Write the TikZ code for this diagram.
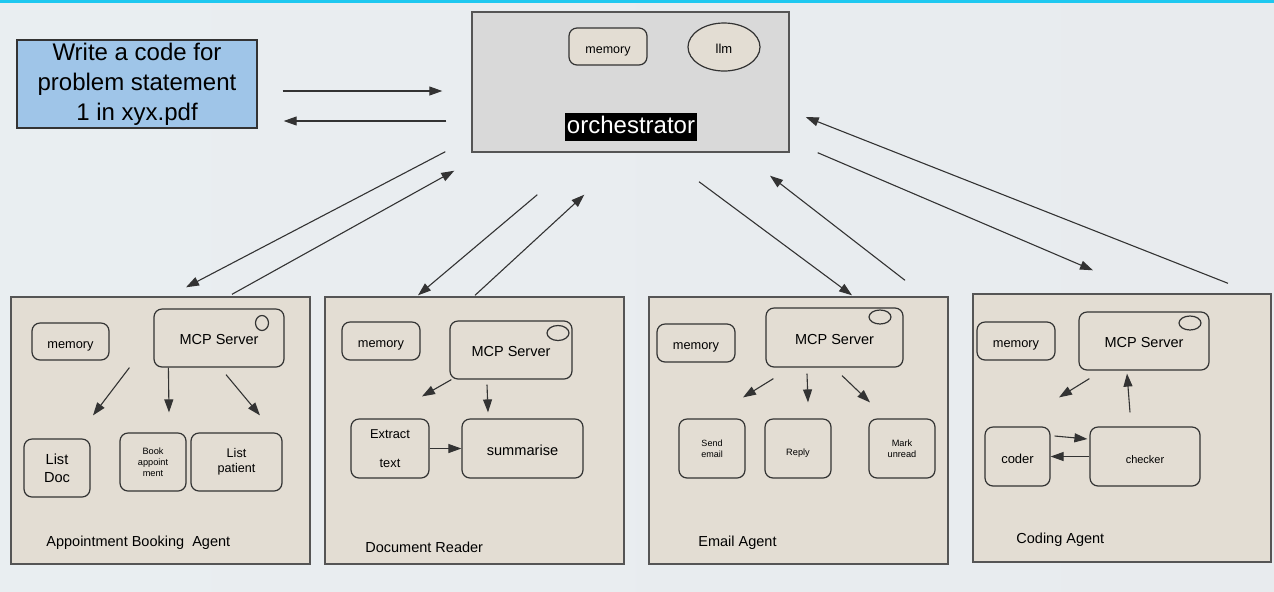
\documentclass[tikz,border=0pt]{standalone}
\usepackage{fontspec}
\setmainfont{Liberation Sans}
\usetikzlibrary{arrows.meta,shapes.geometric,calc}
\definecolor{agentBeige}{RGB}{227,221,211}
\definecolor{orchGray}{RGB}{217,217,217}
\definecolor{promptBlue}{RGB}{159,197,232}
\definecolor{lineDark}{RGB}{51,51,51}
\definecolor{edgeGray}{RGB}{85,85,85}
\definecolor{topCyan}{RGB}{30,200,240}
\definecolor{bgLeft}{RGB}{233,238,241}
\definecolor{bgMid}{RGB}{239,246,250}
\definecolor{bgRight}{RGB}{232,235,238}
\newcommand{\fs}[1]{\fontsize{#1}{1.2\dimexpr#1pt\relax}\selectfont}
\tikzset{
  agentbox/.style={
    rectangle, draw=edgeGray, line width=0.7pt, fill=agentBeige, inner sep=0pt
  },
  toolbox/.style={
    rectangle, rounded corners=4pt, draw=lineDark, line width=0.6pt,
    fill=agentBeige, align=center, inner sep=0pt
  },
  oneline/.style={text height=1.5ex, text depth=0.25ex},
  ringnode/.style={ellipse, draw=lineDark, line width=0.6pt, inner sep=0pt},
  flowArrow/.style={-{Triangle[length=6.5pt,width=4.5pt]}, line width=0.55pt, color=lineDark},
  agentlabel/.style={anchor=west, inner sep=0pt, oneline, font=\fs{7.25}}
}
\begin{document}
\begin{tikzpicture}[x=0.5pt, y=-0.5pt]
    \useasboundingbox (0,0) rectangle (1274,591);
    \shade[left color=bgLeft, middle color=bgMid, right color=bgRight] (0,0) rectangle (1274,591);
    \fill[topCyan] (0,0) rectangle (1274,2.5);

    % request and orchestrator
    \node[rectangle, draw=lineDark, line width=0.7pt, fill=promptBlue, minimum width=120pt,
          minimum height=44pt, align=center, inner sep=0pt, font=\fontsize{12}{15}\selectfont]
          (prompt) at (137,84) {Write a code for\\problem statement\\1 in xyx.pdf};
    \node[rectangle, draw=edgeGray, line width=0.7pt, fill=orchGray, minimum width=158.5pt,
          minimum height=70pt] (orch) at (630.5,82) {};
    \node[toolbox, oneline, minimum width=39pt, minimum height=18.5pt, font=\fs{6.25}] (omem) at (608,46.5) {memory};
    \node[ringnode, oneline, fill=agentBeige, minimum width=36pt, minimum height=24pt, font=\fs{6.5}] (llm) at (724,47) {llm};
    \node[fill=black, text=white, minimum width=66pt, minimum height=14pt, inner sep=0pt,
          oneline, font=\fs{12}] (olabel) at (631,127) {orchestrator};

    \draw[flowArrow] ($(prompt.east)+(25,7)$) -- ($(orch.west)+(-29,9)$);
    \draw[flowArrow] ($(orch.west)+(-25,39)$) -- ($(prompt.east)+(26,37)$);

    % agents
    \node[agentbox, minimum width=149.5pt, minimum height=133.5pt] (ag1) at (160.5,430.5) {};
    \node[agentbox, minimum width=149.5pt, minimum height=133.5pt] (ag2) at (474.5,430.5) {};
    \node[agentbox, minimum width=149.5pt, minimum height=133.5pt] (ag3) at (798.5,430.5) {};
    \node[agentbox, minimum width=149pt, minimum height=134pt] (ag4) at (1122,428) {};

    \draw[flowArrow] ($(orch.south west)+(-26,-1)$) -- ($(ag1.north)+(25.5,-9)$);
    \draw[flowArrow] ($(ag1.north)+(71.5,-2)$) -- ($(orch.south west)+(-17,18)$);
    \draw[flowArrow] ($(orch.south west)+(66,42)$) -- ($(ag2.north)+(-56.5,-1)$);
    \draw[flowArrow] ($(ag2.north)+(0.5,-1)$) -- ($(orch.south west)+(113,42)$);
    \draw[flowArrow] ($(orch.south)+(68.5,29)$) -- ($(ag3.north)+(53.5,-1)$);
    \draw[flowArrow] ($(ag3.north)+(106.5,-16)$) -- ($(orch.south)+(139.5,23)$);
    \draw[flowArrow] ($(orch.south east)+(28,0)$) -- ($(ag4.north)+(-29,-23)$);
    \draw[flowArrow] ($(ag4.north)+(106,-10)$) -- ($(orch.east)+(16,35)$);

    % appointment booking agent
    \node[toolbox, oneline, minimum width=38.5pt, minimum height=18.5pt, font=\fs{6.4}] (mem1) at (70.5,341.5) {memory};
    \node[toolbox, oneline, minimum width=65pt, minimum height=29pt, font=\fs{7.25}] (mcp1) at (219,338) {MCP Server};
    \node[ringnode, minimum width=6.5pt, minimum height=7.5pt] (ring1) at (262,323) {};
    \node[toolbox, minimum width=33pt, minimum height=29pt, font=\fontsize{7.3}{9}\selectfont] (doc1) at (57,468) {List\\Doc};
    \node[toolbox, minimum width=33pt, minimum height=29pt, font=\fontsize{4.6}{5.5}\selectfont] (book1) at (153,462) {Book\\appoint\\ment};
    \node[toolbox, minimum width=45.5pt, minimum height=29pt, font=\fontsize{6.3}{7.5}\selectfont] (pat1) at (236.5,462) {List\\patient};
    \draw[flowArrow] ($(mcp1.south west)+(-24,0)$) -- ($(doc1.north)+(36,-23)$);
    \draw[flowArrow] ($(mcp1.south west)+(15,0)$) -- ($(book1.north)+(16,-20)$);
    \draw[flowArrow] ($(mcp1.south)+(7,7)$) -- ($(pat1.north)+(23.5,-17)$);
    \node[agentlabel] (lbl1) at (46,540) {Appointment Booking\ \ Agent};

    % document reader
    \node[toolbox, oneline, minimum width=39pt, minimum height=19pt, font=\fs{6.4}] (mem2) at (381,341) {memory};
    \node[toolbox, oneline, minimum width=61pt, minimum height=29pt, font=\fs{7.25}] (mcp2) at (511,350) {MCP Server};
    \node[ringnode, minimum width=11pt, minimum height=7.5pt] (ring2) at (558,333) {};
    \node[toolbox, minimum width=39pt, minimum height=29.5pt, font=\fontsize{6.4}{14.5}\selectfont] (ext2) at (390,448.5) {Extract\\text};
    \node[toolbox, oneline, minimum width=60.5pt, minimum height=29.5pt, font=\fs{7.3}] (sum2) at (522.5,448.5) {summarise};
    \draw[flowArrow] ($(mcp2.south west)+(2,0)$) -- ($(ext2.north)+(32,-22)$);
    \draw[flowArrow] ($(mcp2.south)+(-24,5)$) -- ($(sum2.north)+(-34.5,-6)$);
    \draw[flowArrow] (ext2.east) -- (sum2.west);
    \node[agentlabel] (lbl2) at (365,546) {Document Reader};

    % email agent
    \node[toolbox, oneline, minimum width=39pt, minimum height=19pt, font=\fs{6.4}] (mem3) at (696,343) {memory};
    \node[toolbox, oneline, minimum width=68.5pt, minimum height=29.5pt, font=\fs{7.25}] (mcp3) at (834.5,337.5) {MCP Server};
    \node[ringnode, minimum width=11pt, minimum height=7pt] (ring3) at (880,317) {};
    \node[toolbox, minimum width=33pt, minimum height=29.5pt, font=\fontsize{4.5}{5.5}\selectfont] (send3) at (712,448.5) {Send\\email};
    \node[toolbox, oneline, minimum width=33pt, minimum height=29.5pt, font=\fs{4.6}] (rep3) at (798,448.5) {Reply};
    \node[toolbox, minimum width=33pt, minimum height=29.5pt, font=\fontsize{4.6}{5.5}\selectfont] (mark3) at (902,448.5) {Mark\\unread};
    \draw[flowArrow] ($(mcp3.south west)+(8,11)$) -- ($(send3.north)+(31,-21)$);
    \draw[flowArrow] ($(mcp3.south)+(-27.5,6)$) -- ($(rep3.north)+(10,-16)$);
    \draw[flowArrow] ($(mcp3.south)+(7.5,8)$) -- ($(mark3.north)+(-32,-16)$);
    \node[agentlabel] (lbl3) at (698,540) {Email Agent};

    % coding agent
    \node[toolbox, oneline, minimum width=39pt, minimum height=19pt, font=\fs{6.4}] (mem4) at (1016,341) {memory};
    \node[toolbox, oneline, minimum width=65pt, minimum height=29pt, font=\fs{7.25}] (mcp4) at (1144,341) {MCP Server};
    \node[ringnode, minimum width=11pt, minimum height=7pt] (ring4) at (1190,323) {};
    \node[toolbox, oneline, minimum width=32.5pt, minimum height=29.5pt, font=\fs{6.5}] (cod4) at (1017.5,456.5) {coder};
    \node[toolbox, oneline, minimum width=55pt, minimum height=29.5pt, font=\fs{5.5}] (chk4) at (1145,456.5) {checker};
    \draw[flowArrow] ($(mcp4.south west)+(11,8)$) -- ($(cod4.north)+(41.5,-29)$);
    \draw[flowArrow] ($(chk4.north)+(-15,-14)$) -- ($(mcp4.south)+(-17,3)$);
    \draw[flowArrow] ($(cod4.east)+(4,-20.5)$) -- ($(chk4.west)+(-2,-17.5)$);
    \draw[flowArrow] (chk4.west) -- (cod4.east);
    \node[agentlabel] (lbl4) at (1016,537) {Coding Agent};
\end{tikzpicture}
\end{document}
